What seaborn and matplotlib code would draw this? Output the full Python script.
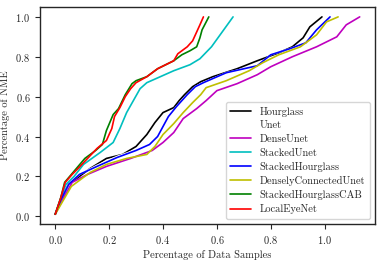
import matplotlib
matplotlib.use("Agg")
import matplotlib.pyplot as plt
import seaborn as sns

#-- Curve data (x = share of samples, y = NME). --#
names = ["Hourglass", "Unet", "DenseUnet", "StackedUnet", "StackedHourglass",
         "DenselyConnectedUnet", "StackedHourglassCAB", "LocalEyeNet"]
colors = ["#000000", "#ffffff", "#bf00bf", "#00bfbf", "#0000ff", "#bfbf00", "#008000", "#ff0000"]

hourglass_x = [0, 0.02, 0.05, 0.07, 0.13, 0.19, 0.25, 0.30, 0.34, 0.37, 0.40, 0.44, 0.46, 0.48,
               0.51, 0.54, 0.585, 0.675, 0.75, 0.83, 0.88, 0.92, 0.945, 0.99]
hourglass_y = [0.01, 0.08, 0.16, 0.18, 0.24, 0.29, 0.31, 0.35, 0.41, 0.47, 0.52, 0.545, 0.58, 0.61,
               0.65, 0.675, 0.70, 0.74, 0.78, 0.82, 0.85, 0.895, 0.95, 1.0]

unet_x = [0, 0.02, 0.05, 0.09, 0.155, 0.23, 0.30, 0.35, 0.38, 0.40, 0.42, 0.45, 0.49, 0.52,
          0.55, 0.635, 0.75, 0.80, 0.87, 0.93, 0.97, 1.02]
unet_y = [0.01, 0.08, 0.16, 0.21, 0.255, 0.30, 0.333, 0.36, 0.40, 0.45, 0.50, 0.55, 0.61, 0.65,
          0.67, 0.72, 0.755, 0.81, 0.84, 0.87, 0.935, 1.0]

denseunet_x = [0, 0.03, 0.063, 0.12, 0.19, 0.28, 0.36, 0.40, 0.44, 0.475, 0.525, 0.56, 0.60,
               0.675, 0.75, 0.80, 0.88, 0.97, 1.045, 1.08, 1.13]
denseunet_y = [0.01, 0.09, 0.17, 0.21, 0.25, 0.29, 0.33, 0.37, 0.42, 0.49, 0.54, 0.58, 0.63,
               0.665, 0.71, 0.75, 0.80, 0.85, 0.90, 0.96, 1.0]

stackedunet_x = [0, 0.02, 0.04, 0.07, 0.105, 0.167, 0.215, 0.24, 0.265, 0.29, 0.315, 0.34, 0.39,
                 0.44, 0.50, 0.537, 0.58, 0.62, 0.66]
stackedunet_y = [0.01, 0.09, 0.16, 0.20, 0.26, 0.32, 0.37, 0.44, 0.52, 0.58, 0.64, 0.67, 0.70,
                 0.73, 0.76, 0.79, 0.85, 0.925, 1.0]

stackedhg_x = [0, 0.02, 0.05, 0.09, 0.155, 0.23, 0.30, 0.35, 0.38, 0.40, 0.42, 0.45, 0.49, 0.52,
               0.55, 0.635, 0.75, 0.80, 0.87, 0.93, 0.97, 1.02]
stackedhg_y = [0.01, 0.08, 0.16, 0.21, 0.25, 0.295, 0.33, 0.36, 0.40, 0.45, 0.50, 0.55, 0.61, 0.65,
               0.67, 0.72, 0.755, 0.81, 0.84, 0.87, 0.935, 1.0]

dcunet_x = [0, 0.03, 0.06, 0.09, 0.13, 0.19, 0.265, 0.34, 0.37, 0.40, 0.44, 0.475, 0.51, 0.54,
            0.56, 0.635, 0.72, 0.77, 0.83, 0.91, 0.97, 1.007, 1.05]
dcunet_y = [0.01, 0.08, 0.15, 0.18, 0.22, 0.26, 0.29, 0.31, 0.35, 0.41, 0.465, 0.52, 0.57, 0.61,
            0.645, 0.68, 0.73, 0.77, 0.81, 0.85, 0.91, 0.975, 1.0]

shgcab_x = [0, 0.02, 0.035, 0.06, 0.11, 0.15, 0.175, 0.19, 0.215, 0.235, 0.26, 0.285, 0.30, 0.34,
            0.38, 0.44, 0.47, 0.50, 0.525, 0.537, 0.545, 0.57]
shgcab_y = [0.01, 0.09, 0.17, 0.21, 0.29, 0.33, 0.36, 0.43, 0.51, 0.54, 0.61, 0.665, 0.68, 0.70,
            0.74, 0.78, 0.81, 0.83, 0.85, 0.895, 0.935, 1.0]

localeye_x = [0, 0.02, 0.037, 0.063, 0.085, 0.12, 0.155, 0.19, 0.21, 0.22, 0.24, 0.26, 0.28, 0.30,
              0.34, 0.38, 0.41, 0.44, 0.455, 0.49, 0.51, 0.537, 0.55]
localeye_y = [0.01, 0.09, 0.17, 0.21, 0.24, 0.29, 0.34, 0.38, 0.44, 0.50, 0.545, 0.60, 0.64, 0.67,
              0.70, 0.74, 0.76, 0.78, 0.815, 0.85, 0.88, 0.96, 1.0]

series = [(hourglass_x, hourglass_y), (unet_x, unet_y), (denseunet_x, denseunet_y),
          (stackedunet_x, stackedunet_y), (stackedhg_x, stackedhg_y), (dcunet_x, dcunet_y),
          (shgcab_x, shgcab_y), (localeye_x, localeye_y)]

sns.set_theme(style="ticks", color_codes=False)
plt.rcParams["font.family"] = "serif"
plt.rcParams["font.serif"] = ["cmr10", "DejaVu Serif"]
plt.rcParams["mathtext.fontset"] = "cm"
plt.rcParams["axes.formatter.use_mathtext"] = True
plt.rcParams["font.size"] = 7.5

fig = plt.figure(figsize=(3.81, 2.60), dpi=100)
ax = fig.add_axes([0.105, 0.138, 0.879, 0.835])

for name, col, (xs, ys) in zip(names, colors, series):
    sns.lineplot(x=xs, y=ys, color=col, label=name, sort=False, estimator=None,
                 linewidth=1.2, ax=ax)

for s in ax.spines.values():
    s.set_color("#262626")
    s.set_linewidth(1.0)
ax.tick_params(labelsize=7.5, length=3.5, width=0.8)
ax.set_xticks([0.0, 0.2, 0.4, 0.6, 0.8, 1.0])
ax.set_yticks([0.0, 0.2, 0.4, 0.6, 0.8, 1.0])
ax.set_xlabel("Percentage of Data Samples", fontsize=7.5, labelpad=3)
ax.set_ylabel("Percentage of NME", fontsize=7.5, labelpad=4)
ax.legend(loc="lower right", fontsize=7.5, frameon=True, handlelength=2.0,
          borderpad=0.45, labelspacing=0.4)

fig.savefig("out.png", dpi=100)
